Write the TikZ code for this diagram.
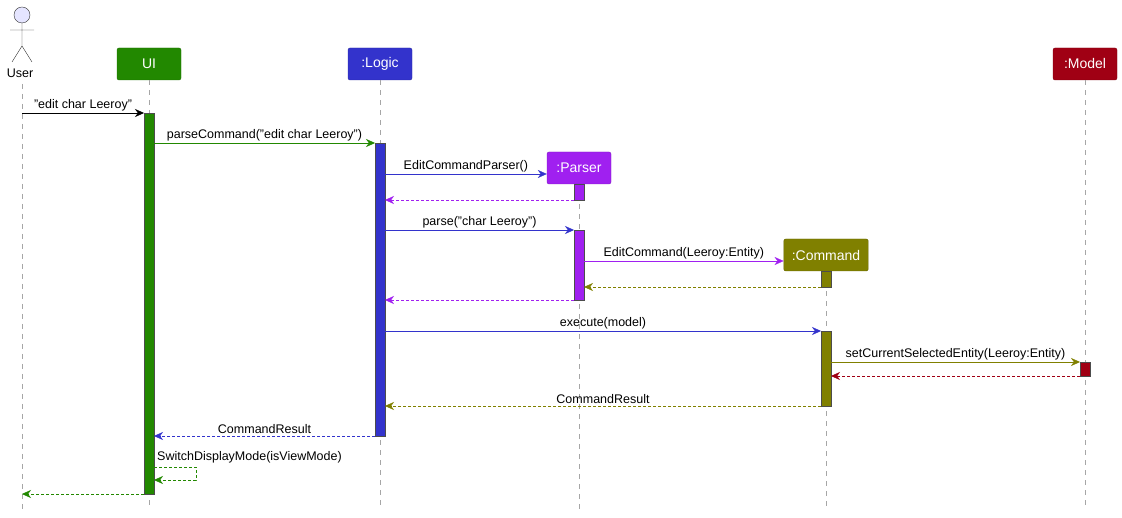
\documentclass[tikz,border=0pt]{standalone}
\usepackage{fontspec}
\setmainfont{Liberation Sans}
\usetikzlibrary{arrows.meta}
\definecolor{uig}{RGB}{34,136,0}
\definecolor{lgb}{RGB}{51,51,204}
\definecolor{prp}{RGB}{160,32,240}
\definecolor{cmo}{RGB}{128,128,0}
\definecolor{mdr}{RGB}{160,0,20}
\begin{document}
\begin{tikzpicture}[x=1pt,y=-1pt,line cap=butt,font=\fontsize{12.5}{15}\selectfont]
	\tikzstyle{part}=[draw=#1!80!black,fill=#1,text=white,rounded corners=2pt,minimum height=32pt,inner xsep=8pt,minimum width=64pt,font=\fontsize{14}{16}\selectfont];
	\tikzstyle{life}=[gray!70,dash pattern=on 5pt off 5pt,thin];
	\tikzstyle{act}=[draw=black!70,fill=#1,minimum width=10pt,inner sep=0pt];
	\tikzstyle{call}=[#1,-{Stealth[length=9pt,width=8pt]}];
	\tikzstyle{ret}=[#1,dashed,dash pattern=on 3pt off 2pt,-{Stealth[length=9pt,width=8pt]}];
	\tikzstyle{msg}=[above,text=black,inner sep=2pt];
%<--------------------------------------------------------------------------->%
	\useasboundingbox (0,0) rectangle (1122,518);
	%% Participants
	\node[part=uig] (UI) at (149,64) {UI};
	\node[part=lgb] (Logic) at (380,64) {:Logic};
	\node[part=mdr] (Model) at (1085,64) {:Model};
	\node[part=prp] (Parser) at (579,168) {:Parser};
	\node[part=cmo] (Command) at (826,255) {:Command};
	%% Actor
	\draw[black!80,fill=blue!10] (22,15) circle (8);
	\draw[black!80] (22,23) -- (22,46) (10,30) -- (34,30) (22,46) -- (12,62) (22,46) -- (32,62);
	\node (User) at (20,73) {User};
	%% Lifelines
	\draw[life] (22,84) -- (22,510);
	\draw[life] (UI.south) -- (149,510);
	\draw[life] (Logic.south) -- (380,510);
	\draw[life] (Model.south) -- (1085,510);
	\draw[life] (Parser.south) -- (579,510);
	\draw[life] (Command.south) -- (826,510);
	%% Activations
	\node[act=uig,minimum height=381pt,anchor=north] (uiA) at (149,113) {};
	\node[act=lgb,minimum height=293pt,anchor=north] (lgA) at (380,143) {};
	\node[act=prp,minimum height=16pt,anchor=north] (prA) at (579,184) {};
	\node[act=prp,minimum height=70pt,anchor=north] (prB) at (579,230) {};
	\node[act=cmo,minimum height=16pt,anchor=north] (cmA) at (826,271) {};
	\node[act=cmo,minimum height=75pt,anchor=north] (cmB) at (826,331) {};
	\node[act=mdr,minimum height=14pt,anchor=north] (mdA) at (1085,362) {};
	%% Messages
	\coordinate (u1) at (22,113);
	\coordinate (u2) at (22,494);
	\draw[call=black] (u1) -- node[msg]{"edit char Leeroy"} (144,113);
	\draw[call=uig] (154,143) -- node[msg]{parseCommand("edit char Leeroy")} (375,143);
	\draw[call=lgb] (385,174) -- node[msg]{EditCommandParser()} (Parser.west |- 0,174);
	\draw[ret=prp] (574,200) -- (385,200);
	\draw[call=lgb] (385,230) -- node[msg]{parse("char Leeroy")} (574,230);
	\draw[call=prp] (584,261) -- node[msg]{EditCommand(Leeroy:Entity)} (Command.west |- 0,261);
	\draw[ret=cmo] (821,287) -- (584,287);
	\draw[ret=prp] (574,300) -- (385,300);
	\draw[call=lgb] (385,331) -- node[msg]{execute(model)} (821,331);
	\draw[call=cmo] (831,362) -- node[msg]{setCurrentSelectedEntity(Leeroy:Entity)} (1080,362);
	\draw[ret=mdr] (1080,376) -- (831,376);
	\draw[ret=cmo] (821,406) -- node[msg]{CommandResult} (385,406);
	\draw[ret=lgb] (375,436) -- node[msg]{CommandResult} (154,436);
	\draw[ret=uig] (154,467) -- (196,467) -- (196,480) -- (154,480);
	\node[anchor=south west,inner sep=2pt] (sw) at (155,465) {SwitchDisplayMode(isViewMode)};
	\draw[ret=uig] (144,494) -- (u2);
\end{tikzpicture}
\end{document}
